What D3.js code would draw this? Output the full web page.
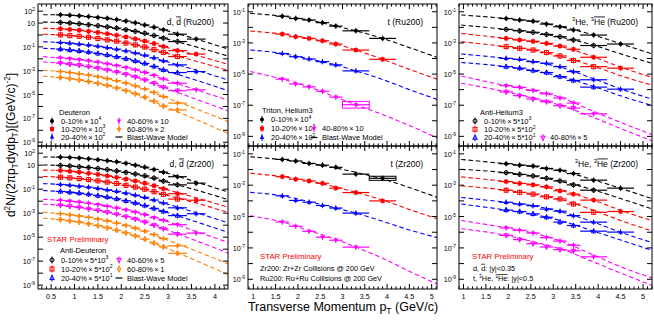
<!DOCTYPE html>
<html>
<head>
<meta charset="utf-8">
<script src="https://cdn.jsdelivr.net/npm/d3@7"></script>
<style>
  body { margin: 0; background: #fff; }
  svg { display: block; font-family: "Liberation Sans", Arial, sans-serif; }
</style>
</head>
<body>
<svg id="chart" width="654" height="321"></svg>
<script>
// ---- data ----
// deuteron bins (GeV/c)
const dPt = [0.7, 0.9, 1.1, 1.3, 1.5, 1.7, 1.9, 2.1, 2.3, 2.5, 2.7, 2.9, 3.2, 3.6];
const dHalf = [0.1, 0.1, 0.1, 0.1, 0.1, 0.1, 0.1, 0.1, 0.1, 0.1, 0.1, 0.1, 0.2, 0.2];
const dFitPt = [0.33, 0.7, 1.5, 2.3, 2.9, 3.6, 4.3];

// rows: d 0-10, dbar 0-10, d 10-20, dbar 10-20, d 20-40, dbar 20-40, d 40-60, dbar 40-60, d 60-80, dbar 60-80
const dRuYield = [
  [49, 45, 41, 35, 30, 25, 19.5, 14.6, 10.4, 7.0, 4.5, 2.7, 1.17, 0.45],
  [11.2, 10, 8.7, 7.3, 6.0, 4.8, 3.7, 2.75, 2.0, 1.38, 0.89, 0.54, 0.28],
  [3.3, 2.9, 2.5, 2.05, 1.64, 1.27, 0.95, 0.68, 0.47, 0.31, 0.19, 0.107, 0.049, 0.025],
  [1.02, 0.89, 0.77, 0.64, 0.51, 0.39, 0.30, 0.21, 0.147, 0.098, 0.059, 0.034, 0.0155],
  [0.234, 0.203, 0.173, 0.143, 0.113, 0.087, 0.064, 0.046, 0.031, 0.0203, 0.0121, 0.0068, 0.0031, 0.00085],
  [0.065, 0.055, 0.046, 0.037, 0.028, 0.021, 0.015, 0.0102, 0.0066, 0.0041, 0.0023, 0.00117, 0.0007],
  [0.012, 0.0102, 0.0085, 0.0068, 0.0052, 0.0038, 0.0027, 0.00185, 0.00118, 0.00072, 0.0004, 0.0002, 8.9e-5, 2.5e-5],
  [0.0043, 0.0035, 0.0029, 0.0022, 0.00164, 0.00116, 0.00078, 0.0005, 0.0003, 0.000172, 8.8e-5, 4.1e-5, 2.1e-5],
  [8.5e-4, 7.0e-4, 5.6e-4, 4.3e-4, 3.2e-4, 2.2e-4, 1.46e-4, 9.2e-5, 5.4e-5, 3.0e-5, 1.5e-5, 6.8e-6, 1.9e-6],
  [2.7e-4, 2.2e-4, 1.7e-4, 1.24e-4, 8.7e-5, 5.8e-5, 3.6e-5, 2.1e-5, 1.17e-5, 6.0e-6, 2.7e-6, 1.1e-6, 5.1e-7]
];
const dRuFit = [
  [50, 49, 30, 10.4, 2.7, 0.45, 0.063],
  [12, 11.2, 6.0, 2.0, 0.54, 0.1, 0.016],
  [3.6, 3.3, 1.64, 0.47, 0.107, 0.02, 0.0032],
  [1.15, 1.02, 0.51, 0.147, 0.034, 0.0063, 0.001],
  [0.27, 0.234, 0.113, 0.031, 0.0068, 0.0011, 1.6e-4],
  [0.076, 0.065, 0.028, 0.0066, 0.00117, 1.6e-4, 2e-5],
  [0.0148, 0.012, 0.0052, 0.00118, 2.0e-4, 2.5e-5, 3.2e-6],
  [0.0054, 0.0043, 0.00164, 3.0e-4, 4.1e-5, 4e-6, 4e-7],
  [0.00112, 8.5e-4, 3.2e-4, 5.4e-5, 6.8e-6, 6.3e-7, 5e-8],
  [3.5e-4, 2.7e-4, 8.7e-5, 1.17e-5, 1.1e-6, 8e-8, 5e-9]
];
const dZrYield = [
  [47, 44, 40, 34, 29, 24, 19, 14.2, 10.1, 6.9, 4.4, 2.6, 1.1, 0.32],
  [9.5, 8.6, 7.5, 6.4, 5.3, 4.3, 3.3, 2.5, 1.85, 1.3, 0.85, 0.47, 0.23],
  [3.6, 3.1, 2.6, 2.1, 1.7, 1.3, 0.97, 0.69, 0.48, 0.32, 0.195, 0.11, 0.042, 0.012],
  [1.0, 0.88, 0.76, 0.63, 0.5, 0.39, 0.3, 0.21, 0.15, 0.1, 0.062, 0.037, 0.015],
  [0.25, 0.215, 0.18, 0.148, 0.117, 0.089, 0.066, 0.047, 0.032, 0.021, 0.0125, 0.0071, 0.0028, 9e-4],
  [0.065, 0.056, 0.047, 0.038, 0.029, 0.022, 0.016, 0.0108, 0.007, 0.0044, 0.0025, 0.0014, 6.3e-4],
  [0.0118, 0.01, 0.0084, 0.0067, 0.0052, 0.0038, 0.0027, 0.0019, 0.00122, 7.5e-4, 4.2e-4, 2.5e-4, 1.1e-4, 2.2e-5],
  [0.0045, 0.0037, 0.003, 0.0023, 0.0017, 0.0012, 8.1e-4, 5.2e-4, 3.2e-4, 1.85e-4, 9.8e-5, 5.1e-5, 1.8e-5],
  [9.1e-4, 7.4e-4, 5.9e-4, 4.5e-4, 3.3e-4, 2.3e-4, 1.5e-4, 9.5e-5, 5.7e-5, 3.2e-5, 1.65e-5, 7.6e-6, 1.9e-6],
  [2.9e-4, 2.3e-4, 1.8e-4, 1.3e-4, 9.2e-5, 6.1e-5, 3.8e-5, 2.3e-5, 1.3e-5, 6.8e-6, 3.2e-6, 1.55e-6, 4.5e-7]
];
const dZrFit = [
  [48, 47, 29, 10.1, 2.6, 0.4, 0.055],
  [10.5, 9.5, 5.3, 1.85, 0.47, 0.085, 0.013],
  [3.9, 3.6, 1.7, 0.48, 0.11, 0.019, 0.003],
  [1.15, 1.0, 0.5, 0.15, 0.037, 0.007, 0.0011],
  [0.29, 0.25, 0.117, 0.032, 0.0071, 0.0011, 1.5e-4],
  [0.077, 0.065, 0.029, 0.007, 0.0014, 1.9e-4, 2.4e-5],
  [0.0145, 0.0118, 0.0052, 0.00122, 2.5e-4, 3e-5, 3.5e-6],
  [0.0056, 0.0045, 0.0017, 3.2e-4, 5.1e-5, 5e-6, 4.5e-7],
  [0.0012, 9.1e-4, 3.3e-4, 5.7e-5, 7.6e-6, 7e-7, 5.5e-8],
  [3.8e-4, 2.9e-4, 9.2e-5, 1.3e-5, 1.55e-6, 1.1e-7, 7e-9]
];

// triton bins; rows: 0-10, 10-20, 20-40, 40-80
const tPt = [1.65, 1.95, 2.25, 2.55, 2.85, 3.3, 3.9];
const tHalf = [0.15, 0.15, 0.15, 0.15, 0.15, 0.3, 0.3];
const tFitPt = [0.93, 1.65, 2.25, 2.85, 3.3, 3.9, 4.5, 5.2];
const tRuYield = [
  [0.052, 0.037, 0.0295, 0.020, 0.012, 0.006, 0.00195],
  [3.7e-3, 2.5e-3, 1.95e-3, 1.38e-3, 8.5e-4, 3.5e-4, 8.9e-5],
  [2.1e-4, 1.3e-4, 9.3e-5, 6.3e-5, 3.9e-5, 1.6e-5],
  [4.7e-6, 2.3e-6, 1.5e-6, 7.9e-7, 3.3e-7, 1.07e-7]
];
const tRuFit = [
  [0.079, 0.052, 0.0295, 0.012, 0.006, 0.00195, 5e-4, 1e-4],
  [5.8e-3, 3.7e-3, 1.95e-3, 8.5e-4, 3.5e-4, 8.9e-5, 2e-5, 4e-6],
  [3.5e-4, 2.1e-4, 9.3e-5, 3.9e-5, 1.6e-5, 4.5e-6, 1e-6, 2e-7],
  [1.45e-5, 4.7e-6, 1.5e-6, 3.3e-7, 1.07e-7, 2.5e-8, 5e-9, 6.3e-10]
];
const tZrYield = [
  [0.044, 0.035, 0.0245, 0.019, 0.0138, 0.0051, 0.00275],
  [3.5e-3, 2.4e-3, 1.86e-3, 1.32e-3, 6.5e-4, 3.4e-4, 1.0e-4],
  [2.1e-4, 1.07e-4, 8.3e-5, 5.1e-5, 3.5e-5, 1.66e-5],
  [4.5e-6, 2.4e-6, 1.15e-6, 4.8e-7, 3.1e-7, 1.12e-7]
];
const tZrFit = [
  [0.065, 0.042, 0.025, 0.0126, 0.0066, 0.0025, 7.1e-4, 1.4e-4],
  [5.8e-3, 3.5e-3, 1.86e-3, 7.6e-4, 3.5e-4, 1.12e-4, 2.8e-5, 6.3e-6],
  [3.5e-4, 2.1e-4, 8.9e-5, 3.5e-5, 1.66e-5, 5e-6, 1.4e-6, 4e-7],
  [1.12e-5, 4.5e-6, 1.26e-6, 3.5e-7, 1.12e-7, 2.2e-8, 3.2e-9, 4e-10]
];
// boxed points: [row, point]
const tRuBox = [3, 5];
const tZrBox = [0, 6];

// helium-3 bins; rows: He3 0-10, anti 0-10, He3 10-20, anti 10-20, He3 20-40, anti 20-40, He3 40-80, anti 40-80
const hePt = [1.95, 2.25, 2.55, 2.85, 3.15, 3.45, 3.9, 4.5];
const heHalf = [0.15, 0.15, 0.15, 0.15, 0.15, 0.15, 0.3, 0.3];
const heFitPt = [0.95, 1.95, 2.55, 3.15, 3.9, 4.5, 5.3];
const heRuYield = [
  [0.037, 0.0295, 0.025, 0.0162, 0.011, 0.0068, 0.0032, 8.5e-4],
  [7.4e-3, 6.0e-3, 4.8e-3, 3.5e-3, 2.5e-3, 1.55e-3, 6.8e-4],
  [1.95e-3, 1.55e-3, 1.26e-3, 9.3e-4, 6.3e-4, 3.9e-4, 1.2e-4, 2.4e-5],
  [5.8e-4, 4.5e-4, 3.5e-4, 2.4e-4, 1.45e-4, 7.4e-5, 3.0e-5],
  [1.02e-4, 8.9e-5, 6.3e-5, 5.0e-5, 3.0e-5, 1.45e-5, 4.3e-6, 1.07e-6],
  [3.0e-5, 2.4e-5, 1.7e-5, 1.26e-5, 6.9e-6, 3.9e-6, 1.45e-6],
  [1.8e-6, 1.4e-6, 8.9e-7, 5.4e-7, 2.9e-7, 1.38e-7, 2.8e-8],
  [7.2e-7, 4.1e-7, 2.5e-7, 1.66e-7, 9.3e-8, 6.6e-8]
];
const heRuFit = [
  [0.062, 0.037, 0.024, 0.0112, 0.0032, 8.9e-4, 1.6e-4],
  [0.0141, 7.4e-3, 4.7e-3, 2.4e-3, 7.1e-4, 2.0e-4, 4.0e-5],
  [4.1e-3, 1.95e-3, 1.2e-3, 6.0e-4, 1.26e-4, 2.8e-5, 5e-6],
  [1.2e-3, 5.8e-4, 3.5e-4, 1.41e-4, 3.2e-5, 7.9e-6, 1.6e-6],
  [1.95e-4, 1.02e-4, 6.3e-5, 2.8e-5, 5e-6, 1.12e-6, 2e-7],
  [5.5e-5, 3.0e-5, 1.66e-5, 7.1e-6, 1.6e-6, 4e-7, 7.9e-8],
  [7.6e-6, 1.8e-6, 8.5e-7, 3.2e-7, 4e-8, 7.9e-9, 1e-9],
  [2.6e-6, 7.2e-7, 2.8e-7, 1e-7, 1.6e-8, 3.2e-9, 4e-10]
];
const heZrYield = [
  [0.0234, 0.019, 0.0166, 0.0117, 0.0089, 0.0055, 0.0021, 6.5e-4],
  [6.3e-3, 4.9e-3, 3.9e-3, 2.75e-3, 1.86e-3, 1.05e-3, 4.8e-4],
  [1.7e-3, 1.29e-3, 1.05e-3, 7.8e-4, 4.4e-4, 2.7e-4, 1.12e-4, 2.1e-5],
  [4.8e-4, 3.5e-4, 2.7e-4, 1.82e-4, 1.32e-4, 6.3e-5, 1.86e-5],
  [8.1e-5, 6.3e-5, 4.9e-5, 3.0e-5, 2.2e-5, 1.15e-5, 4.4e-6, 1.02e-6],
  [2.6e-5, 2.1e-5, 1.48e-5, 9.1e-6, 4.4e-6, 2.7e-6, 1.17e-6],
  [1.9e-6, 1.32e-6, 8.9e-7, 4.5e-7, 2.75e-7, 1.48e-7, 2.7e-8],
  [6.3e-7, 3.4e-7, 1.86e-7, 1.15e-7, 7.8e-8, 6.5e-8]
];
const heZrFit = [
  [0.044, 0.0234, 0.0158, 0.0085, 0.0022, 6.3e-4, 1.12e-4],
  [0.0102, 6.3e-3, 3.8e-3, 1.78e-3, 5e-4, 1.41e-4, 2.5e-5],
  [3.4e-3, 1.7e-3, 1.05e-3, 4.7e-4, 1.12e-4, 2.5e-5, 4.5e-6],
  [9.1e-4, 4.8e-4, 2.7e-4, 1.26e-4, 2.5e-5, 5.6e-6, 1e-6],
  [1.66e-4, 8.1e-5, 4.9e-5, 2.1e-5, 4.4e-6, 1e-6, 1.8e-7],
  [6.3e-5, 2.6e-5, 1.41e-5, 5.6e-6, 1.17e-6, 3.2e-7, 5.6e-8],
  [5.6e-6, 1.9e-6, 8.9e-7, 2.8e-7, 3.5e-8, 6.3e-9, 1e-9],
  [1.66e-6, 6.3e-7, 2.5e-7, 8.9e-8, 1.26e-8, 2.5e-9, 3.2e-10]
];

// labels (thin spaces around the times sign)
const dLegend = ["0-10%\u2009×\u200910^{4}", "10-20%\u2009×\u200910^{3}", "20-40%\u2009×\u200910^{2}", "40-60%\u2009×\u200910", "60-80%\u2009×\u20092"];
const dbarLegend = ["0-10%\u2009×\u20095*10^{3}", "10-20%\u2009×\u20095*10^{2}", "20-40%\u2009×\u20095*10^{1}", "40-60%\u2009×\u20095", "60-80%\u2009×\u20091"];
const tLegend = ["0-10%\u2009×\u200910^{4}", "10-20%\u2009×\u200910^{3}", "20-40%\u2009×\u200910^{2}", "40-80%\u2009×\u200910"];
const heBarLegend = ["0-10%\u2009×\u20095*10^{3}", "10-20%\u2009×\u20095*10^{2}", "20-40%\u2009×\u20095*10^{1}", "40-80%\u2009×\u20095"];
const dYExp = [2, 1, -1, -3, -5, -7, -9];
const tYExp = [-1, -3, -5, -7, -9];

// ---- drawing ----
const svg = d3.select('#chart');
const colors = ['#000000', '#ff0000', '#0000ff', '#ff00ff', '#ff8000'];
const shapes = ['circle', 'square', 'tri', 'triDown', 'cross'];

// small helper for ^{sup} _{sub} ~{overline}
function rich(sel, str) {
  const fs = parseFloat(sel.attr('font-size'));
  const parts = str.split(/(\^\{[^}]*\}|_\{[^}]*\}|~\{[^}]*\})/).filter(s => s.length);
  let shift = 0;
  parts.forEach(p => {
    let target = 0, txt = p, small = false, over = false;
    if (p.startsWith('^{')) { target = -0.42 * fs; txt = p.slice(2, -1); small = true; }
    else if (p.startsWith('_{')) { target = 0.22 * fs; txt = p.slice(2, -1); small = true; }
    else if (p.startsWith('~{')) { txt = p.slice(2, -1); over = true; }
    const t = sel.append('tspan').attr('dy', target - shift).text(txt);
    if (small) t.attr('font-size', fs * 0.68);
    if (over) t.style('text-decoration', 'overline');
    shift = target;
  });
  return sel;
}

function label(g, x, y, str, size, opts = {}) {
  const t = g.append('text')
    .attr('x', x).attr('y', y)
    .attr('font-size', size)
    .attr('fill', opts.fill || '#000')
    .attr('text-anchor', opts.anchor || 'start');
  return rich(t, str);
}

function marker(g, cx, cy, shape, color, filled) {
  const s = 4;
  let el;
  if (shape === 'circle') {
    el = g.append('circle').attr('cx', cx).attr('cy', cy).attr('r', s / 2);
  } else if (shape === 'square') {
    el = g.append('rect').attr('x', cx - s / 2).attr('y', cy - s / 2).attr('width', s).attr('height', s);
  } else if (shape === 'tri') {
    el = g.append('path').attr('d', `M${cx},${cy - 2.5}L${cx + 2.3},${cy + 1.6}L${cx - 2.3},${cy + 1.6}Z`);
  } else if (shape === 'triDown') {
    el = g.append('path').attr('d', `M${cx},${cy + 2.5}L${cx + 2.3},${cy - 1.6}L${cx - 2.3},${cy - 1.6}Z`);
  } else if (shape === 'cross') {
    el = g.append('path').attr('d', d3.symbol(d3.symbolCross, 11)()).attr('transform', `translate(${cx},${cy})`);
  } else {
    el = g.append('path').attr('d', `M${cx},${cy - 2.7}L${cx + 1.7},${cy}L${cx},${cy + 2.7}L${cx - 1.7},${cy}Z`);
  }
  if (filled) el.attr('fill', color).attr('stroke', 'none');
  else el.attr('fill', 'none').attr('stroke', color).attr('stroke-width', 1);
}

const layout = [
  { x: [38, 228], y: [4, 146], xd: [0.22, 4.28], yd: [Math.pow(10, -9.32), Math.pow(10, 2.6)], kind: 'd', yield: dRuYield, fit: dRuFit, title: 'd, ~{d} (Ru200)', lbl: false },
  { x: [248, 437], y: [4, 146], xd: [0.88, 5.12], yd: [Math.pow(10, -9.62), Math.pow(10, -0.5)], kind: 't', yield: tRuYield, fit: tRuFit, title: 't (Ru200)', box: tRuBox, lbl: false },
  { x: [459, 652], y: [4, 146], xd: [0.9, 5.2], yd: [Math.pow(10, -9.62), Math.pow(10, -0.5)], kind: 'he', yield: heRuYield, fit: heRuFit, title: '^{3}He, ^{3}~{He} (Ru200)', lbl: false },
  { x: [38, 228], y: [146, 289], xd: [0.22, 4.28], yd: [Math.pow(10, -9.32), Math.pow(10, 2.6)], kind: 'd', yield: dZrYield, fit: dZrFit, title: 'd, ~{d} (Zr200)', lbl: true },
  { x: [248, 437], y: [146, 289], xd: [0.88, 5.12], yd: [Math.pow(10, -9.62), Math.pow(10, -0.5)], kind: 't', yield: tZrYield, fit: tZrFit, title: 't (Zr200)', box: tZrBox, lbl: true },
  { x: [459, 652], y: [146, 289], xd: [0.9, 5.2], yd: [Math.pow(10, -9.62), Math.pow(10, -0.5)], kind: 'he', yield: heZrYield, fit: heZrFit, title: '^{3}He, ^{3}~{He} (Zr200)', lbl: true }
];

layout.forEach((p, pi) => {
  const x = d3.scaleLinear().domain(p.xd).range(p.x);
  const y = d3.scaleLog().domain(p.yd).range([p.y[1], p.y[0]]);
  const g = svg.append('g');
  const clipId = 'clip' + pi;
  svg.append('clipPath').attr('id', clipId).append('rect')
    .attr('x', p.x[0]).attr('y', p.y[0]).attr('width', p.x[1] - p.x[0]).attr('height', p.y[1] - p.y[0]);
  const plot = g.append('g').attr('clip-path', `url(#${clipId})`);

  let pts, half, fitPt;
  if (p.kind === 'd') { pts = dPt; half = dHalf; fitPt = dFitPt; }
  else if (p.kind === 't') { pts = tPt; half = tHalf; fitPt = tFitPt; }
  else { pts = hePt; half = heHalf; fitPt = heFitPt; }

  const style = i => {
    if (p.kind === 't') return { color: colors[i], shape: shapes[i], filled: true };
    const c = Math.floor(i / 2), filled = i % 2 === 0;
    return { color: colors[c], shape: (!filled && c === 4) ? 'diamond' : shapes[c], filled };
  };

  // blast-wave curves
  const line = d3.line().x(d => x(d[0])).y(d => y(d[1])).curve(d3.curveMonotoneX);
  p.fit.forEach((row, i) => {
    plot.append('path')
      .attr('d', line(row.map((v, j) => [fitPt[j], v])))
      .attr('fill', 'none')
      .attr('stroke', style(i).color)
      .attr('stroke-width', 1.1)
      .attr('stroke-dasharray', '4.5,2.8');
  });

  // data points with bin-width bars
  p.yield.forEach((row, i) => {
    const st = style(i);
    row.forEach((v, j) => {
      plot.append('line')
        .attr('x1', x(pts[j] - half[j])).attr('x2', x(pts[j] + half[j]))
        .attr('y1', y(v)).attr('y2', y(v))
        .attr('stroke', st.color).attr('stroke-width', 1.2);
      plot.append('line')
        .attr('x1', x(pts[j])).attr('x2', x(pts[j]))
        .attr('y1', y(v) - 2.8).attr('y2', y(v) + 2.8)
        .attr('stroke', st.color).attr('stroke-width', 0.9);
      marker(plot, x(pts[j]), y(v), st.shape, st.color, st.filled);
    });
  });

  if (p.box) {
    const [r, j] = p.box;
    const v = p.yield[r][j];
    const f = p.kind === 't' && r === 3 ? 1.65 : 1.35;
    plot.append('rect')
      .attr('x', x(pts[j] - half[j])).attr('y', y(v * f))
      .attr('width', x(pts[j] + half[j]) - x(pts[j] - half[j]))
      .attr('height', y(v / f) - y(v * f))
      .attr('fill', 'none').attr('stroke', colors[r]).attr('stroke-width', 1);
  }

  // frame
  g.append('rect')
    .attr('x', p.x[0]).attr('y', p.y[0])
    .attr('width', p.x[1] - p.x[0]).attr('height', p.y[1] - p.y[0])
    .attr('fill', 'none').attr('stroke', '#000').attr('stroke-width', 1);

  // x ticks (bottom + top, inside)
  const major = x.ticks(8), minor = x.ticks(40);
  minor.forEach(t => {
    const isMajor = major.some(m => Math.abs(m - t) < 1e-9);
    const len = isMajor ? 5 : 2.6;
    g.append('line').attr('x1', x(t)).attr('x2', x(t)).attr('y1', p.y[1]).attr('y2', p.y[1] - len).attr('stroke', '#000');
    g.append('line').attr('x1', x(t)).attr('x2', x(t)).attr('y1', p.y[0]).attr('y2', p.y[0] + len).attr('stroke', '#000');
  });
  if (p.lbl) {
    major.forEach(t => {
      g.append('text').attr('x', x(t)).attr('y', p.y[1] + 9.5)
        .attr('font-size', 7.2).attr('text-anchor', 'middle').text(d3.format('~g')(t));
    });
  }

  // y ticks (decades), left + right
  const lo = Math.ceil(Math.log10(p.yd[0])), hi = Math.floor(Math.log10(p.yd[1]));
  d3.range(lo, hi + 1).forEach(e => {
    const yy = y(Math.pow(10, e));
    g.append('line').attr('x1', p.x[0]).attr('x2', p.x[0] + 5).attr('y1', yy).attr('y2', yy).attr('stroke', '#000');
    g.append('line').attr('x1', p.x[1]).attr('x2', p.x[1] - 5).attr('y1', yy).attr('y2', yy).attr('stroke', '#000');
  });
  const exps = p.kind === 'd' ? dYExp : tYExp;
  exps.forEach(e => {
    const str = e === 1 ? '10' : `10^{${e}}`;
    label(g, p.x[0] - 3, y(Math.pow(10, e)) + 3, str, 7.2, { anchor: 'end' });
  });

  // panel title
  label(g, p.x[1] - 14, p.y[0] + 20.5, p.title, 8.5, { anchor: 'end' });
});

// ---- legends and notes ----
const leg = svg.append('g');
const blast = (x0, yy, tx) => {
  leg.append('line').attr('x1', x0 - 3.5).attr('x2', x0 + 3.5).attr('y1', yy).attr('y2', yy)
    .attr('stroke', '#000').attr('stroke-width', 1.2);
  label(leg, tx, yy + 2.6, 'Blast-Wave Model', 7.5);
};
const entry = (mx, tx, yy, i, filled, str, shapeOverride) => {
  leg.append('line').attr('x1', mx).attr('x2', mx).attr('y1', yy - 3.5).attr('y2', yy + 3.5)
    .attr('stroke', colors[i]).attr('stroke-width', 1);
  marker(leg, mx, yy, shapeOverride || shapes[i], colors[i], filled);
  label(leg, tx, yy + 2.6, str, 7.5);
};

// deuteron Ru
label(leg, 59, 114.6, 'Deuteron', 7.5);
[121, 129, 137].forEach((yy, i) => entry(52, 61, yy, i, true, dLegend[i]));
[121, 129].forEach((yy, k) => entry(119, 127, yy, k + 3, true, dLegend[k + 3]));
blast(119, 137, 127);

// anti-deuteron Zr
label(leg, 47, 242, 'STAR Preliminary', 7.8, { fill: '#ff0000' });
label(leg, 60, 252.6, 'Anti-Deuteron', 7.5);
[260, 269, 278].forEach((yy, i) => entry(52, 61, yy, i, false, dbarLegend[i]));
entry(119, 127, 260, 3, false, dbarLegend[3]);
entry(119, 127, 269, 4, false, dbarLegend[4], 'diamond');
blast(119, 278, 127);

// triton Ru
label(leg, 262, 112.6, 'Triton, Helium3', 7.5);
[119.5, 128.5, 137.5].forEach((yy, i) => entry(262, 271, yy, i, true, tLegend[i]));
entry(314, 322, 128.5, 3, true, tLegend[3]);
blast(314, 137.5, 322);

// collision notes
label(leg, 260, 259.3, 'STAR Preliminary', 7.8, { fill: '#ff0000' });
label(leg, 260, 270.8, 'Zr200: Zr+Zr Collisions @ 200 GeV', 7.3);
label(leg, 260, 280.8, 'Ru200: Ru+Ru Collisions @ 200 GeV', 7.3);

// anti-helium3 Ru
label(leg, 480, 114.6, 'Anti-Helium3', 7.5);
[121, 129.3, 137.7].forEach((yy, i) => entry(475, 484, yy, i, false, heBarLegend[i]));
entry(543, 550, 137.7, 3, false, heBarLegend[3]);

// rapidity notes
label(leg, 472, 259.3, 'STAR Preliminary', 7.8, { fill: '#ff0000' });
label(leg, 473, 270.8, 'd, ~{d}: |y|<0.35', 7.3);
label(leg, 473, 281, 't, ^{3}He, ^{3}~{He}: |y|<0.5', 7.3);

// axis titles
label(svg, 343, 311, 'Transverse Momentum p_{T} (GeV/c)', 12.5, { anchor: 'middle' });
const yt = svg.append('text')
  .attr('transform', 'translate(15,145) rotate(-90)')
  .attr('font-size', 12).attr('text-anchor', 'middle');
rich(yt, 'd^{2}N/(2πp_{T}dydp_{T})[(GeV/c)^{-2}]');
</script>
</body>
</html>
